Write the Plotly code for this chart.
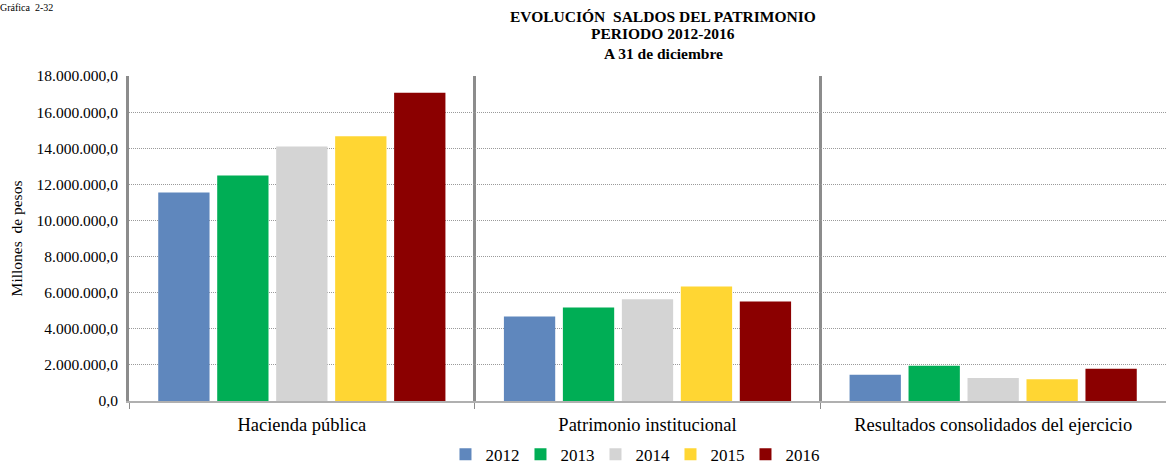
import plotly.graph_objects as go

# Saldos del patrimonio, 2012-2016
categorias = ["Hacienda pública", "Patrimonio institucional", "Resultados consolidados del ejercicio"]
anios = ["2012", "2013", "2014", "2015", "2016"]
saldos_2012 = [11550000, 4680000, 1450000]
saldos_2013 = [12490000, 5180000, 1950000]
saldos_2014 = [14100000, 5630000, 1270000]
saldos_2015 = [14660000, 6340000, 1200000]
saldos_2016 = [17070000, 5510000, 1780000]
y_ticks = [0, 2000000, 4000000, 6000000, 8000000, 10000000, 12000000, 14000000, 16000000, 18000000]

series = [saldos_2012, saldos_2013, saldos_2014, saldos_2015, saldos_2016]
colores = ["#5F87BD", "#00AE55", "#D4D4D4", "#FFD633", "#8B0000"]

FONT = "Liberation Serif"

fig = go.Figure()
for anio, valores, color in zip(anios, series, colores):
    fig.add_trace(
        go.Bar(
            x=categorias,
            y=valores,
            name=anio,
            marker=dict(color=color, line=dict(width=0)),
        )
    )

fig.update_layout(
    width=1166,
    height=464,
    barmode="group",
    bargap=0.147,
    bargroupgap=0.13,
    separators=",.",
    plot_bgcolor="white",
    paper_bgcolor="white",
    font=dict(family=FONT, color="#000", size=15),
    margin=dict(l=129, r=0, t=76, b=63, autoexpand=False),
    showlegend=True,
    legend=dict(
        orientation="h",
        x=0.486,
        y=-0.11,
        xanchor="center",
        yanchor="top",
        font=dict(size=17, family=FONT),
        itemwidth=30,
        entrywidth=30,
        tracegroupgap=0,
        bgcolor="rgba(0,0,0,0)",
    ),
)

fig.update_xaxes(
    type="category",
    tickson="boundaries",
    showgrid=True,
    gridcolor="#8c8c8c",
    gridwidth=3,
    showline=True,
    linecolor="#b0b0b0",
    linewidth=2,
    ticks="outside",
    ticklen=6,
    tickcolor="#8c8c8c",
    ticklabelstandoff=6,
    tickfont=dict(size=18.5, family=FONT),
    automargin=False,
)

fig.update_yaxes(
    range=[0, 18000000],
    tickvals=y_ticks,
    tickformat=",.1f",
    showgrid=True,
    gridcolor="#9a9a9a",
    gridwidth=1,
    griddash="1px,1px",
    showline=True,
    linecolor="#8c8c8c",
    linewidth=3,
    ticks="",
    ticklabelstandoff=5,
    zeroline=False,
    automargin=False,
    tickfont=dict(size=15.5, family=FONT),
    title=dict(text="Millones  de pesos", font=dict(size=15.5, family=FONT), standoff=11),
)

titulos = [("EVOLUCIÓN  SALDOS DEL PATRIMONIO", 16), ("PERIODO 2012-2016", 34), ("A 31 de diciembre", 53)]
for texto, ypx in titulos:
    fig.add_annotation(
        xref="paper",
        yref="paper",
        x=(663 - 129) / 1037,
        y=1 + (76 - ypx) / 325,
        text=f"<b>{texto}</b>",
        showarrow=False,
        xanchor="center",
        yanchor="middle",
        font=dict(size=15.5, family=FONT),
    )

fig.add_annotation(
    xref="paper",
    yref="paper",
    x=-129 / 1037,
    y=1 + 76 / 325,
    text="Gráfica  2-32",
    showarrow=False,
    xanchor="left",
    yanchor="top",
    xshift=-2,
    font=dict(size=10, family=FONT),
)

# the page's default 8px body margin would push the chart off its place
fig.write_html(
    "out.html",
    config={"displayModeBar": False},
    post_script="document.body.style.margin='0';",
)
